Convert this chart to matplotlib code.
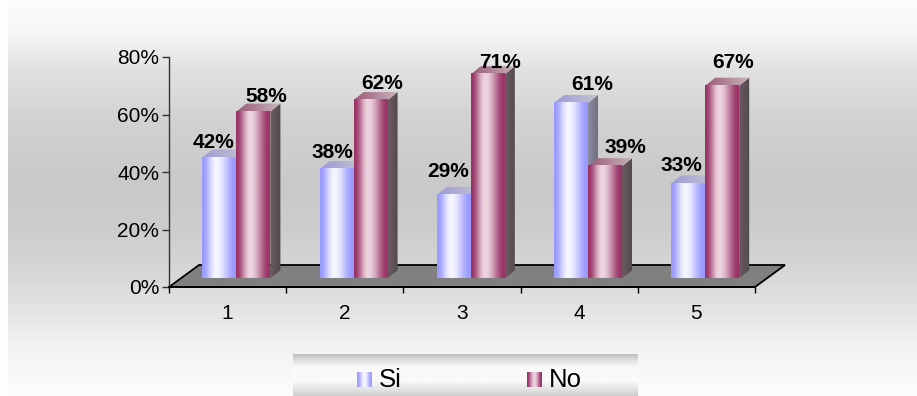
import numpy as np
import matplotlib
matplotlib.use("Agg")
import matplotlib.pyplot as plt
from matplotlib.patches import Polygon
from matplotlib.colors import to_rgb

# ---- data ----
categories = ["1", "2", "3", "4", "5"]
series_names = ["Si", "No"]
si_values = [42, 38, 29, 61, 33]
no_values = [58, 62, 71, 39, 67]
y_ticks = [0, 20, 40, 60, 80]
y_tick_labels = ["0%", "20%", "40%", "60%", "80%"]

# ---- styling ----
FONT = "Liberation Sans"
W, H = 917, 396

# face colours for each series
STYLE = {
    "Si": dict(edge="#9999ff", centre="#f5f5ff", top_l="#9c9cd8", top_r="#c4c4cc",
               side_l="#8a8aa6", side_r="#6e6e78"),
    "No": dict(edge="#993366", centre="#ecd4df", top_l="#9c5a78", top_r="#c8b4bc",
               side_l="#6e5a64", side_r="#4e4a4c"),
}

# label nudges in pixels (x right, y up) relative to the top-back centre of a bar
label_dx = {"Si": [-16, -14, -16, 11, -17], "No": [3, 2, 2, 10, 1]}
label_dy = {"Si": [7, 9, 15, 10, 10], "No": [7, 9, 4, 11, 15]}

# pseudo-3D geometry (in data units)
PX_PER_X = 117.0
PX_PER_Y = 2.875
FLOOR_DX, FLOOR_DY = 30 / PX_PER_X, 22 / PX_PER_Y
BAR_OX, BAR_OY = 0.075, 3.0
BAR_DX, BAR_DY = 10 / PX_PER_X, 2.8
BAR_W = 0.29

fig = plt.figure(figsize=(W / 100, H / 100), dpi=100)

# ---- background gradient ----
bg = fig.add_axes([0, 0, 1, 1], zorder=-10)
stops_y = [0, 30, 70, 120, 185, 230, 280, 320, 350, 396]
stops_v = [0.985, 0.965, 0.88, 0.82, 0.785, 0.80, 0.85, 0.905, 0.955, 0.985]
rows = np.interp(np.arange(H), stops_y, stops_v)
bg_img = np.repeat(rows[:, None], W, axis=1)
bg_img[:, :8] = 0.99
bg.imshow(bg_img, cmap="gray", vmin=0, vmax=1, aspect="auto",
          extent=[0, W, H, 0], interpolation="bilinear")
bg.set_xlim(0, W)
bg.set_ylim(H, 0)
bg.axis("off")

# ---- main axes ----
AX_L, AX_R, AX_T, AX_B = 169, 755, 57, 287
ax = fig.add_axes([AX_L / W, (H - AX_B) / H, (AX_R - AX_L) / W, (AX_B - AX_T) / H])
ax.patch.set_visible(False)


def hgrad(c_left, c_right, n=128):
    t = np.linspace(0, 1, n)[None, :, None]
    a, b = np.array(to_rgb(c_left)), np.array(to_rgb(c_right))
    return a + (b - a) * t


def cyl_grad(edge, centre, mid=0.42, n=256):
    t = np.linspace(0, 1, n)
    s = np.where(t < mid, t / mid, (1 - t) / (1 - mid))
    w = 0.5 - 0.5 * np.cos(np.pi * s)
    a, b = np.array(to_rgb(edge)), np.array(to_rgb(centre))
    return (a[None, :] + (b - a)[None, :] * w[:, None])[None, :, :]


def draw_para(ax, pts, img, z):
    poly = Polygon(pts, closed=True, transform=ax.transData, fc="none", ec="none")
    ax.add_patch(poly)
    xs, ys = [p[0] for p in pts], [p[1] for p in pts]
    im = ax.imshow(img, extent=[min(xs), max(xs), min(ys), max(ys)], aspect="auto",
                   origin="lower", interpolation="bilinear", zorder=z)
    im.set_clip_path(poly)


# floor
floor = Polygon([(0.5, 0), (5.5, 0), (5.5 + FLOOR_DX, FLOOR_DY), (0.5 + FLOOR_DX, FLOOR_DY)],
                closed=True, fc="#808080", ec="black", lw=1.3, zorder=1, clip_on=False,
                joinstyle="miter")
ax.add_patch(floor)

z = 2.0
x_pos = np.arange(1, len(categories) + 1)
for i, c in enumerate(x_pos):
    for name, vals, off in (("Si", si_values, -BAR_W), ("No", no_values, 0.0)):
        st = STYLE[name]
        v = vals[i]
        x0 = c + off + BAR_OX
        x1 = x0 + BAR_W
        y0 = BAR_OY
        y1 = BAR_OY + v
        # side face
        side = [(x1, y0), (x1 + BAR_DX, y0 + BAR_DY), (x1 + BAR_DX, y1 + BAR_DY), (x1, y1)]
        draw_para(ax, side, hgrad(st["side_l"], st["side_r"]), z)
        # top face
        top = [(x0, y1), (x1, y1), (x1 + BAR_DX, y1 + BAR_DY), (x0 + BAR_DX, y1 + BAR_DY)]
        draw_para(ax, top, hgrad(st["top_l"], st["top_r"]), z + 0.001)
        # front face
        ax.imshow(cyl_grad(st["edge"], st["centre"]), extent=[x0, x1, y0, y1],
                  aspect="auto", origin="lower", interpolation="bilinear", zorder=z + 0.002)
        z += 0.01
        # value label
        ax.annotate(f"{v}%", xy=(x0 + BAR_W / 2 + BAR_DX, y1 + BAR_DY),
                    xytext=(label_dx[name][i], label_dy[name][i]),
                    textcoords="offset pixels", ha="center", va="center",
                    fontsize=15, fontweight="bold", family=FONT, color="black",
                    zorder=10, annotation_clip=False)

ax.set_xlim(0.5, 5.5)
ax.set_ylim(0, 80)

# axes lines and ticks
for s in ("top", "right"):
    ax.spines[s].set_visible(False)
ax.spines["left"].set_color("#333333")
ax.spines["left"].set_linewidth(1.0)
ax.spines["bottom"].set_color("black")
ax.spines["bottom"].set_linewidth(1.3)
ax.spines["bottom"].set_zorder(5)

ax.set_yticks(y_ticks)
ax.set_yticklabels(y_tick_labels, family=FONT, fontsize=15)
ax.tick_params(axis="y", direction="out", length=5, width=1, color="#333333", pad=2)

ax.set_xticks(np.arange(0.5, len(categories) + 1, 1.0))
ax.set_xticklabels([])
ax.tick_params(axis="x", which="major", direction="out", length=4.5, width=1, color="black")
ax.set_xticks(x_pos, minor=True)
ax.set_xticklabels(categories, minor=True, family=FONT, fontsize=15)
ax.tick_params(axis="x", which="minor", length=0, pad=12)

# ---- legend ----
lg = fig.add_axes([293 / W, 0, (638 - 293) / W, (396 - 354) / H], zorder=5)
ly = np.array([354, 360, 367, 380, 390, 396])
lv = np.array([0.75, 0.88, 0.975, 0.98, 0.88, 0.79])
lrows = np.interp(np.arange(354, 396), ly, lv)
lg.imshow(np.repeat(lrows[:, None], 10, axis=1), cmap="gray", vmin=0, vmax=1,
          aspect="auto", extent=[293, 638, 396, 354], interpolation="bilinear")
marker_x = {"Si": 357, "No": 527}
for name in series_names:
    st = STYLE[name]
    mx = marker_x[name]
    lg.imshow(cyl_grad(st["edge"], st["centre"], mid=0.5), extent=[mx, mx + 15, 387, 372],
              aspect="auto", interpolation="bilinear", zorder=2)
    lg.text(mx + 22, 380, name, family=FONT, fontsize=18.5, va="center", ha="left",
            color="black", zorder=3)
lg.set_xlim(293, 638)
lg.set_ylim(396, 354)
lg.axis("off")

fig.savefig("out.png", dpi=100)
